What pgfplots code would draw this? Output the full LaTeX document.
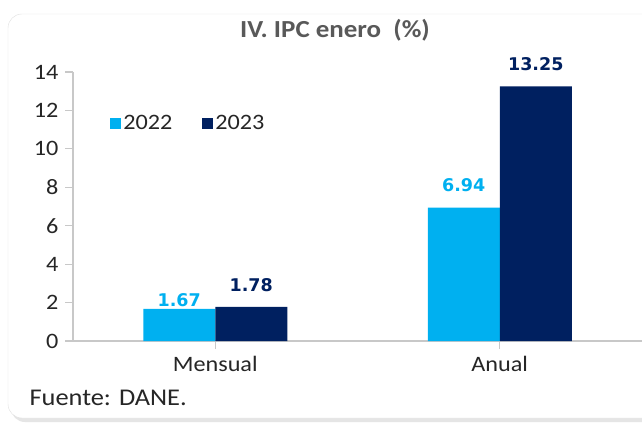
\documentclass[border=0pt]{standalone}
\usepackage{fontspec}
\setmainfont[FakeStretch=1.1]{Carlito}
\newfontfamily\labfont{DejaVu Sans}
\usepackage{pgfplots}
\pgfplotsset{compat=1.18}
\definecolor{cA}{HTML}{00B0F0}
\definecolor{cB}{HTML}{002060}
\definecolor{axg}{HTML}{C8C8C8}
\definecolor{txt}{HTML}{262626}
\definecolor{tgray}{HTML}{595959}
\pgfplotstableread{
x y off
0 1.67 -1
1 6.94 12
}\serA
\pgfplotstableread{
x y off
0 1.78 12
1 13.25 12
}\serB
\begin{document}
\begin{tikzpicture}
\path[use as bounding box] (0pt,0pt) rectangle (642pt,426pt);
\fill[white] (0pt,0pt) rectangle (642pt,426pt);
\fill[black!10, rounded corners=14pt] (11pt,4pt) rectangle (665pt,409pt);
\draw[draw=black!12, fill=white, rounded corners=14pt] (8pt,8pt) rectangle (660pt,412pt);
\node[font=\fontsize{24.5}{28}\selectfont\bfseries, text=tgray] at (335pt,396pt) {IV. IPC enero~~(\%)};
\node[anchor=west, font=\fontsize{24}{28}\selectfont, text=txt] at (26pt,28pt) {Fuente: DANE.};
\begin{axis}[
  at={(73pt,85pt)}, anchor=south west,
  scale only axis, width=569pt, height=269pt,
  xmin=-0.5, xmax=1.5, ymin=0, ymax=14,
  ybar=0pt, bar width=72pt,
  axis x line*=bottom, axis y line*=left,
  axis line style={draw=axg, line width=1.2pt},
  xtick={0,1}, xticklabels={Mensual,Anual},
  ytick={0,2,...,14},
  tick style={draw=axg, line width=1.2pt},
  tick align=outside,
  major tick length=8pt,
  /pgf/number format/assume math mode=true,
  ticklabel style={font=\fontsize{22}{25}\selectfont, text=txt},
  xticklabel style={yshift=-4pt},
  yticklabel style={xshift=-3pt},
  enlargelimits=false,
  visualization depends on={\thisrow{off} \as \off},
  nodes near coords={\pgfmathprintnumber[fixed,fixed zerofill,precision=2]{\pgfplotspointmeta}},
  nodes near coords style={font=\labfont\bfseries\fontsize{17.5}{20}\selectfont, anchor=south, yshift=\off pt},
  legend style={at={(0.06,0.81)}, anchor=west, draw=none, fill=none,
    font=\fontsize{22}{25}\selectfont, text=txt, legend columns=2,
    /tikz/every even column/.append style={column sep=28pt}},
  legend image code/.code={\fill[#1] (0pt,-5.5pt) rectangle (11pt,5.5pt);},
]
\addplot[fill=cA, draw=none, nodes near coords style={text=cA}] table[x=x, y=y] {\serA};
\addplot[fill=cB, draw=none, nodes near coords style={text=cB}] table[x=x, y=y] {\serB};
\legend{2022,2023}
\end{axis}
\end{tikzpicture}
\end{document}
